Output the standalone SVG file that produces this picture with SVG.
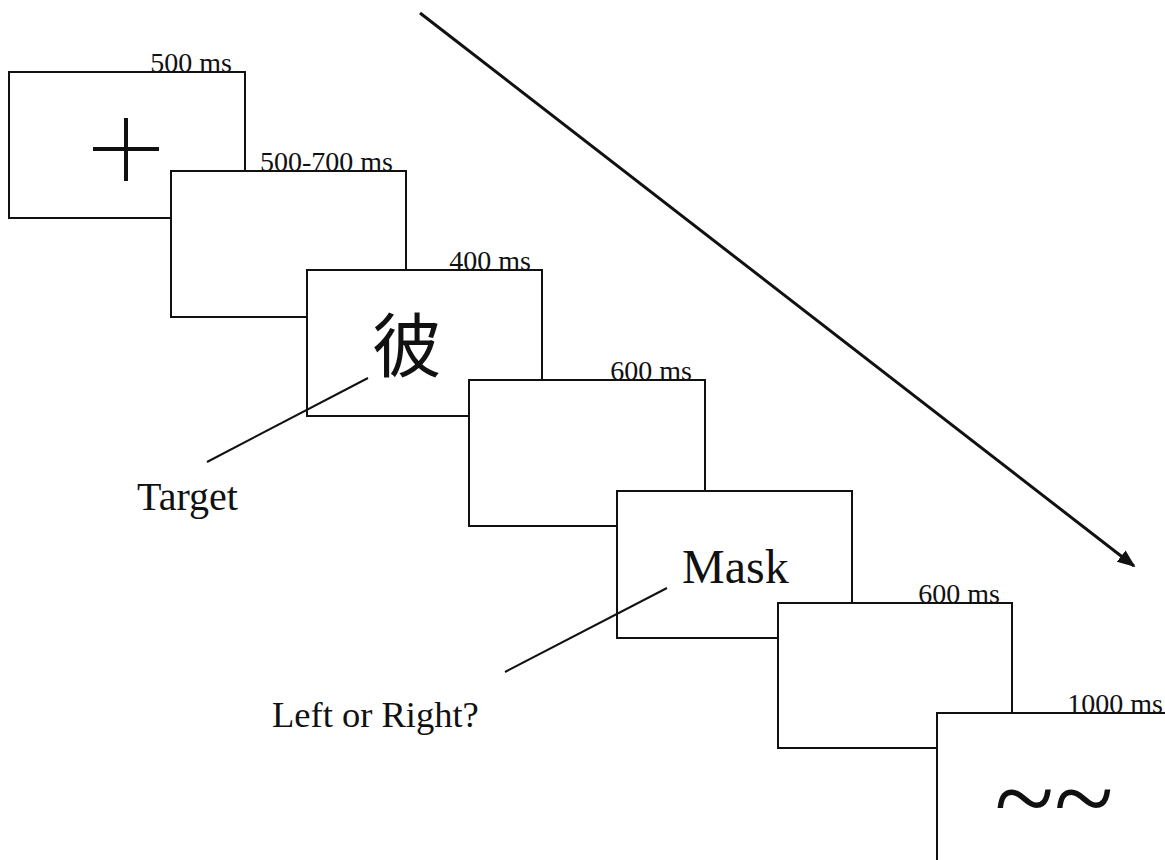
<svg xmlns="http://www.w3.org/2000/svg" width="1165" height="860" viewBox="0 0 1165 860">
<style>
.box{fill:#fff;stroke:#111;stroke-width:2}
.t{font-family:"Liberation Serif","Times New Roman",serif;fill:#111}
.ms{font-size:28px;text-anchor:end}
.ln{stroke:#111;stroke-width:2;fill:none}
</style>
<defs>
<marker id="ah" viewBox="0 0 10 10" refX="9" refY="5" markerWidth="6" markerHeight="6" orient="auto" markerUnits="strokeWidth">
<path d="M0,1 L10,5 L0,9 Z" fill="#111"/>
</marker>
</defs>
<rect width="1165" height="860" fill="#fff"/>
<g id="frame1">
<rect class="box" x="9" y="72" width="236" height="146"/>
<text class="t ms" x="232" y="72">500 ms</text>
<path d="M93,149 H159 M126,118 V181" stroke="#111" stroke-width="4"/>
</g>
<g id="frame2">
<rect class="box" x="171" y="171" width="235" height="146"/>
<text class="t ms" x="393" y="171">500-700 ms</text>
</g>
<g id="frame3">
<rect class="box" x="307" y="270" width="235" height="146"/>
<text class="t ms" x="531" y="270">400 ms</text>
<text x="407" y="372" font-family="'Noto Sans CJK SC','Noto Sans CJK JP',sans-serif" font-size="70" text-anchor="middle" fill="#111">彼</text>
</g>
<g id="frame4">
<rect class="box" x="469" y="380" width="236" height="146"/>
<text class="t ms" x="692" y="380">600 ms</text>
</g>
<g id="frame5">
<rect class="box" x="617" y="491" width="235" height="147"/>
<text class="t" x="682" y="583" font-size="48">Mask</text>
</g>
<g id="frame6">
<rect class="box" x="778" y="603" width="234" height="145"/>
<text class="t ms" x="1000" y="603">600 ms</text>
</g>
<g id="frame7">
<rect class="box" x="937" y="713" width="240" height="160"/>
<text class="t ms" x="1163" y="713">1000 ms</text>
<text class="t" x="1054" y="835" font-size="110" text-anchor="middle">~~</text>
</g>
<g id="labels">
<text class="t" x="137" y="510" font-size="40">Target</text>
<text class="t" x="272" y="727" font-size="36.5">Left or Right?</text>
</g>
<g id="connectors">
<line class="ln" x1="207" y1="462" x2="368" y2="378"/>
<line class="ln" x1="505" y1="672" x2="667" y2="588"/>
<line x1="420" y1="13" x2="1134" y2="566" stroke="#111" stroke-width="3" marker-end="url(#ah)"/>
</g>
</svg>
